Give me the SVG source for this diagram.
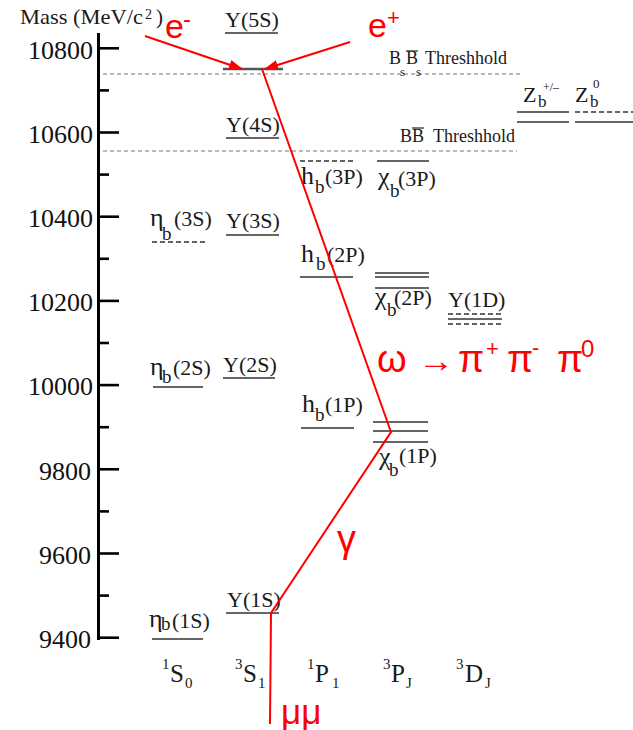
<svg xmlns="http://www.w3.org/2000/svg" width="633" height="730" viewBox="0 0 633 730">
<defs>
<style>
.lbl{font-family:"Liberation Serif","Times New Roman",serif;fill:#1a1a1a;}
.t22{font-size:22px;}
.big{font-size:26px;}
.sub{font-size:19px;}
.num{font-family:"Liberation Serif","Times New Roman",serif;font-size:26px;fill:#111;text-anchor:end;}
.lv{stroke:#333;stroke-width:1.6;fill:none;}
.lvd{stroke:#333;stroke-width:1.6;fill:none;stroke-dasharray:5 3;}
.thr{stroke:#777;stroke-width:1.2;stroke-dasharray:4 3;fill:none;}
.ax{stroke:#000;stroke-width:3;fill:none;}
.red{font-family:"Liberation Sans",Arial,sans-serif;fill:#ff0000;}
.rl{stroke:#ff0000;stroke-width:2;fill:none;}
</style>
<marker id="ah" markerUnits="userSpaceOnUse" markerWidth="14" markerHeight="10" refX="13" refY="5" orient="auto">
<path d="M0,0 L14,5 L0,10 Z" fill="#ff0000"/>
</marker>
</defs>
<rect width="633" height="730" fill="#fff"/>

<g id="axis">
<line class="ax" x1="98.5" y1="33" x2="98.5" y2="640"/>
<g stroke="#000" stroke-width="2.6">
<line x1="98" y1="48.3" x2="119" y2="48.3"/>
<line x1="98" y1="132.5" x2="119" y2="132.5"/>
<line x1="98" y1="216.7" x2="119" y2="216.7"/>
<line x1="98" y1="300.9" x2="119" y2="300.9"/>
<line x1="98" y1="385.1" x2="119" y2="385.1"/>
<line x1="98" y1="469.3" x2="119" y2="469.3"/>
<line x1="98" y1="553.5" x2="119" y2="553.5"/>
<line x1="98" y1="637.7" x2="119" y2="637.7"/>
<line x1="98" y1="90.4" x2="109" y2="90.4"/>
<line x1="98" y1="174.6" x2="109" y2="174.6"/>
<line x1="98" y1="258.8" x2="109" y2="258.8"/>
<line x1="98" y1="343" x2="109" y2="343"/>
<line x1="98" y1="427.2" x2="109" y2="427.2"/>
<line x1="98" y1="511.4" x2="109" y2="511.4"/>
<line x1="98" y1="595.6" x2="109" y2="595.6"/>
</g>
<g font-family="'Liberation Serif', 'Times New Roman', serif">
<text class="num" x="93" y="58.5">10800</text>
<text class="num" x="93" y="142.7">10600</text>
<text class="num" x="93" y="226.9">10400</text>
<text class="num" x="93" y="311.1">10200</text>
<text class="num" x="93" y="395.3">10000</text>
<text class="num" x="91" y="479.5">9800</text>
<text class="num" x="91" y="563.7">9600</text>
<text class="num" x="91" y="647.9">9400</text>
</g>
<text class="lbl" font-size="21"><tspan x="20" y="24" textLength="123" lengthAdjust="spacingAndGlyphs">Mass (MeV/c</tspan><tspan x="145" y="19" font-size="14">2</tspan><tspan x="156" y="24">)</tspan></text>
</g>

<g id="thresholds">
<line class="thr" x1="103" y1="74" x2="522" y2="74"/>
<line class="thr" x1="103" y1="151" x2="517" y2="151"/>
<text class="lbl" font-size="18"><tspan x="389" y="64">B</tspan><tspan x="400" y="76" font-size="13">s</tspan><tspan x="406" y="64">B</tspan><tspan x="416" y="76" font-size="13">s</tspan><tspan x="425" y="64">Threshhold</tspan></text>
<line x1="406" y1="51" x2="418" y2="51" stroke="#333" stroke-width="1.3"/>
<text class="lbl" font-size="18"><tspan x="400" y="142">B</tspan><tspan x="412" y="142">B</tspan><tspan x="433" y="142">Threshhold</tspan></text>
<line x1="412" y1="128" x2="424" y2="128" stroke="#333" stroke-width="1.3"/>
</g>

<g id="Y5S">
<text class="lbl t22" x="225" y="27">Y(5S)</text>
<line class="lv" x1="225" y1="33" x2="278" y2="33"/>
<line x1="223" y1="69" x2="283" y2="69" stroke="#555" stroke-width="2.5"/>
</g>
<g id="Y4S">
<text class="lbl t22" x="226" y="132">Y(4S)</text>
<line class="lv" x1="226" y1="138" x2="279" y2="138"/>
</g>
<g id="Y3S">
<text class="lbl t22" x="226" y="228">Y(3S)</text>
<line class="lv" x1="226" y1="235" x2="279" y2="235"/>
</g>
<g id="Y2S">
<text class="lbl t22" x="223" y="372">Y(2S)</text>
<line class="lv" x1="223" y1="378" x2="275" y2="378"/>
</g>
<g id="Y1S">
<text class="lbl t22" x="227" y="607">Y(1S)</text>
<line class="lv" x1="226" y1="613" x2="279" y2="613"/>
</g>

<g id="etab3S">
<text class="lbl t22"><tspan class="big" x="150" y="226">η</tspan><tspan class="sub" x="162" y="240">b</tspan><tspan x="174" y="226">(3S)</tspan></text>
<line class="lvd" x1="152" y1="242" x2="207" y2="242"/>
</g>
<g id="etab2S">
<text class="lbl t22"><tspan class="big" x="150" y="375">η</tspan><tspan class="sub" x="162" y="383">b</tspan><tspan x="173" y="375">(2S)</tspan></text>
<line class="lv" x1="153" y1="387" x2="203" y2="387"/>
</g>
<g id="etab1S">
<text class="lbl t22"><tspan class="big" x="149" y="627">η</tspan><tspan class="sub" x="161" y="630">b</tspan><tspan x="172" y="628">(1S)</tspan></text>
<line class="lv" x1="152" y1="639" x2="203" y2="639"/>
</g>

<g id="hb3P">
<line class="lvd" x1="300" y1="161" x2="353" y2="161"/>
<text class="lbl t22"><tspan class="big" x="301" y="184">h</tspan><tspan class="sub" x="315" y="193">b</tspan><tspan x="325" y="184">(3P)</tspan></text>
</g>
<g id="chib3P">
<line class="lv" x1="377" y1="161" x2="429" y2="161"/>
<text class="lbl t22"><tspan class="big" x="378" y="185">χ</tspan><tspan class="sub" x="390" y="197">b</tspan><tspan x="398" y="186">(3P)</tspan></text>
</g>
<g id="hb2P">
<text class="lbl t22"><tspan class="big" x="301" y="262">h</tspan><tspan class="sub" x="316" y="270">b</tspan><tspan x="327" y="262">(2P)</tspan></text>
<line class="lv" x1="300" y1="277" x2="353" y2="277"/>
</g>
<g id="chib2P">
<line class="lv" x1="375" y1="273" x2="429" y2="273"/>
<line class="lv" x1="375" y1="277" x2="429" y2="277"/>
<line class="lv" x1="375" y1="288" x2="429" y2="288"/>
<text class="lbl t22"><tspan class="big" x="375" y="305">χ</tspan><tspan class="sub" x="387" y="316">b</tspan><tspan x="394" y="305">(2P)</tspan></text>
</g>
<g id="Y1D">
<text class="lbl t22" x="448" y="307">Y(1D)</text>
<line class="lvd" x1="448" y1="314" x2="502" y2="314"/>
<line class="lv" x1="448" y1="319" x2="502" y2="319"/>
<line class="lvd" x1="448" y1="324" x2="502" y2="324"/>
</g>
<g id="hb1P">
<text class="lbl t22"><tspan class="big" x="302" y="412">h</tspan><tspan class="sub" x="315" y="421">b</tspan><tspan x="325" y="412">(1P)</tspan></text>
<line class="lv" x1="301" y1="428" x2="354" y2="428"/>
</g>
<g id="chib1P">
<line class="lv" x1="373" y1="422" x2="428" y2="422"/>
<line class="lv" x1="373" y1="431" x2="428" y2="431"/>
<line class="lv" x1="373" y1="442" x2="428" y2="442"/>
<text class="lbl t22"><tspan class="big" x="379" y="465">χ</tspan><tspan class="sub" x="389" y="476">b</tspan><tspan x="399" y="463">(1P)</tspan></text>
</g>
<g id="Zbpm">
<text class="lbl t22"><tspan x="523" y="102">Z</tspan><tspan x="538" y="107" font-size="17">b</tspan><tspan x="543" y="91" font-size="12">+/–</tspan></text>
<line class="lv" x1="517" y1="112" x2="569" y2="112"/>
<line class="lv" x1="517" y1="122" x2="569" y2="122"/>
</g>
<g id="Zb0">
<text class="lbl t22"><tspan x="575" y="102">Z</tspan><tspan x="590" y="107" font-size="17">b</tspan><tspan x="593" y="88" font-size="13">0</tspan></text>
<line class="lvd" x1="575" y1="112" x2="633" y2="112"/>
<line class="lv" x1="575" y1="122" x2="633" y2="122"/>
</g>

<g id="columns">
<text class="lbl" font-size="25"><tspan x="162" y="669" font-size="15">1</tspan><tspan x="170" y="682">S</tspan><tspan x="185" y="688" font-size="15">0</tspan></text>
<text class="lbl" font-size="25"><tspan x="235" y="669" font-size="15">3</tspan><tspan x="243" y="682">S</tspan><tspan x="258" y="688" font-size="15">1</tspan></text>
<text class="lbl" font-size="25"><tspan x="307" y="669" font-size="15">1</tspan><tspan x="315" y="682">P</tspan><tspan x="332" y="688" font-size="15">1</tspan></text>
<text class="lbl" font-size="25"><tspan x="383" y="669" font-size="15">3</tspan><tspan x="391" y="682">P</tspan><tspan x="406" y="688" font-size="15">J</tspan></text>
<text class="lbl" font-size="25"><tspan x="456" y="669" font-size="15">3</tspan><tspan x="465" y="682">D</tspan><tspan x="485" y="688" font-size="15">J</tspan></text>
</g>

<g id="connectors">
<line class="rl" x1="145" y1="36" x2="242" y2="69" marker-end="url(#ah)"/>
<line class="rl" x1="350" y1="42" x2="265" y2="69" marker-end="url(#ah)"/>
<polyline class="rl" points="262,69 391,432 271,613 270,724"/>
</g>

<g id="labels-red">
<text class="red" font-size="34"><tspan x="165" y="38">e</tspan><tspan x="183" y="27" font-size="24">-</tspan></text>
<text class="red" font-size="34"><tspan x="368" y="37">e</tspan><tspan x="387" y="25" font-size="22">+</tspan></text>
<text class="red" font-size="38"><tspan x="377" y="372">ω</tspan><tspan x="418" y="372" font-size="34" textLength="36" lengthAdjust="spacingAndGlyphs">→</tspan><tspan x="458" y="372">π</tspan><tspan x="486" y="356" font-size="22">+</tspan><tspan x="507" y="372">π</tspan><tspan x="532" y="355" font-size="22">-</tspan><tspan x="557" y="372">π</tspan><tspan x="581" y="357" font-size="24">0</tspan></text>
<text class="red" x="337" y="552" font-size="38">γ</text>
<text class="red" x="281" y="724" font-size="35">μμ</text>
</g>
</svg>
